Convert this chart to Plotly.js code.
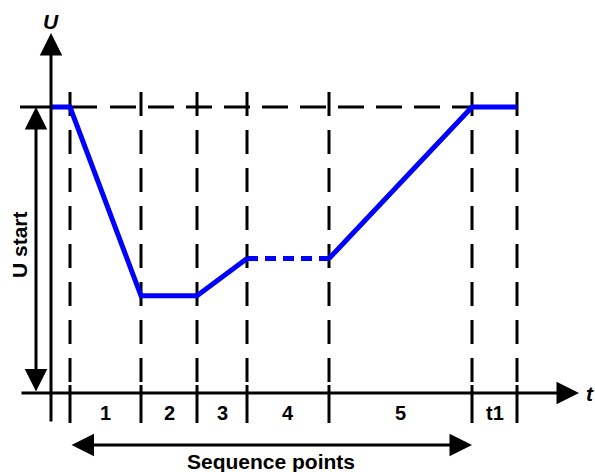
<!DOCTYPE html>
<html>
<head>
<meta charset="utf-8">
<script src="https://cdn.plot.ly/plotly-3.0.1.min.js"></script>
<style>html,body{margin:0;padding:0;background:#fff;}#chart{width:595px;height:472px;}</style>
</head>
<body>
<div id="chart"></div>
<script>
// ---- data ----
const seqLabels = ['1', '2', '3', '4', '5', 't1'];
// time boundaries of the sequence points (arbitrary time units)
const boundaryT = [1.9, 9.0, 14.6, 19.6, 27.8, 42.1, 46.6];
// voltage profile (t, U)
const profileT = [0, 1.9, 9.0, 14.6, 19.6, 27.8, 42.1, 46.6];
const profileU = [10, 10, 3.4, 3.4, 4.7, 4.7, 10, 10];
const uStart = 10;
const dottedIndex = 4; // segment from point 4 to 5 is dotted

// ---- layout helpers (pixel -> axis units, for decorations only) ----
const X = px => (px - 51) / 10;
const Y = py => (393 - py) / 28.6;

const blue = '#0000ff';
const font = {family: 'Liberation Sans, Arial, sans-serif', size: 20, color: '#000'};

const traces = [
  {x: profileT.slice(0, dottedIndex + 1), y: profileU.slice(0, dottedIndex + 1), mode: 'lines',
   line: {color: blue, width: 5}, hoverinfo: 'skip'},
  {x: profileT.slice(dottedIndex, dottedIndex + 2), y: profileU.slice(dottedIndex, dottedIndex + 2), mode: 'lines',
   line: {color: blue, width: 5, dash: '11px,7px'}, hoverinfo: 'skip'},
  {x: profileT.slice(dottedIndex + 1), y: profileU.slice(dottedIndex + 1), mode: 'lines',
   line: {color: blue, width: 5}, hoverinfo: 'skip'}
];

const shapes = [];
const blk = {color: '#000', width: 3};
// horizontal reference line at U start
shapes.push({type: 'line', xref: 'x', yref: 'y', x0: X(20), x1: X(97), y0: uStart, y1: uStart, line: blk, layer: 'below'});
shapes.push({type: 'line', xref: 'x', yref: 'y', x0: X(110), x1: boundaryT[boundaryT.length - 1], y0: uStart, y1: uStart,
  line: {color: '#000', width: 3, dash: '26px,12px'}, layer: 'below'});
// vertical dashed boundaries
boundaryT.forEach(t => {
  shapes.push({type: 'line', xref: 'x', yref: 'y', x0: t, x1: t, y0: Y(92), y1: Y(382),
    line: {color: '#000', width: 3, dash: '24px,14px'}, layer: 'below'});
  shapes.push({type: 'line', xref: 'x', yref: 'y', x0: t, x1: t, y0: Y(385), y1: Y(423), line: blk, layer: 'below'});
});

const arrowBase = {xref: 'x', yref: 'y', axref: 'x', ayref: 'y', showarrow: true, text: '',
  arrowhead: 2, arrowsize: 1.5, arrowwidth: 3, arrowcolor: '#000', standoff: 0, startstandoff: 0};

const annotations = [
  // U axis
  Object.assign({}, arrowBase, {x: 0, y: Y(33), ax: 0, ay: Y(423)}),
  // t axis
  Object.assign({}, arrowBase, {x: X(579), y: 0, ax: X(20), ay: 0}),
  // U start double arrow
  Object.assign({}, arrowBase, {x: X(36), y: uStart, ax: X(36), ay: 0, arrowside: 'end+start', startarrowhead: 2, startarrowsize: 1.5}),
  // Sequence points double arrow
  Object.assign({}, arrowBase, {x: boundaryT[boundaryT.length - 2], y: Y(445), ax: boundaryT[0], ay: Y(445),
    arrowside: 'end+start', startarrowhead: 2, startarrowsize: 1.5}),
  // texts
  {xref: 'x', yref: 'y', x: 0, y: Y(21), text: '<b><i>U</i></b>', showarrow: false, font: Object.assign({}, font, {size: 21})},
  {xref: 'x', yref: 'y', x: X(590), y: 0, text: '<b><i>t</i></b>', showarrow: false, font: Object.assign({}, font, {size: 21})},
  {xref: 'x', yref: 'y', x: X(19), y: Y(245), text: '<b>U start</b>', textangle: -90, showarrow: false, font: Object.assign({}, font, {size: 21})},
  {xref: 'x', yref: 'y', x: (boundaryT[0] + boundaryT[boundaryT.length - 2]) / 2, y: Y(461), text: '<b>Sequence points</b>',
   showarrow: false, font: Object.assign({}, font, {size: 21})}
];
seqLabels.forEach((lab, i) => {
  annotations.push({xref: 'x', yref: 'y', x: (boundaryT[i] + boundaryT[i + 1]) / 2, y: Y(413), text: '<b>' + lab + '</b>',
    showarrow: false, font: font});
});

const layout = {
  width: 595, height: 472,
  margin: {l: 0, r: 0, t: 0, b: 0},
  paper_bgcolor: '#fff', plot_bgcolor: '#fff',
  showlegend: false,
  xaxis: {range: [X(0), X(595)], visible: false, fixedrange: true},
  yaxis: {range: [Y(472), Y(0)], visible: false, fixedrange: true},
  shapes: shapes,
  annotations: annotations
};

Plotly.newPlot('chart', traces, layout, {staticPlot: true, displayModeBar: false});
</script>
</body>
</html>
